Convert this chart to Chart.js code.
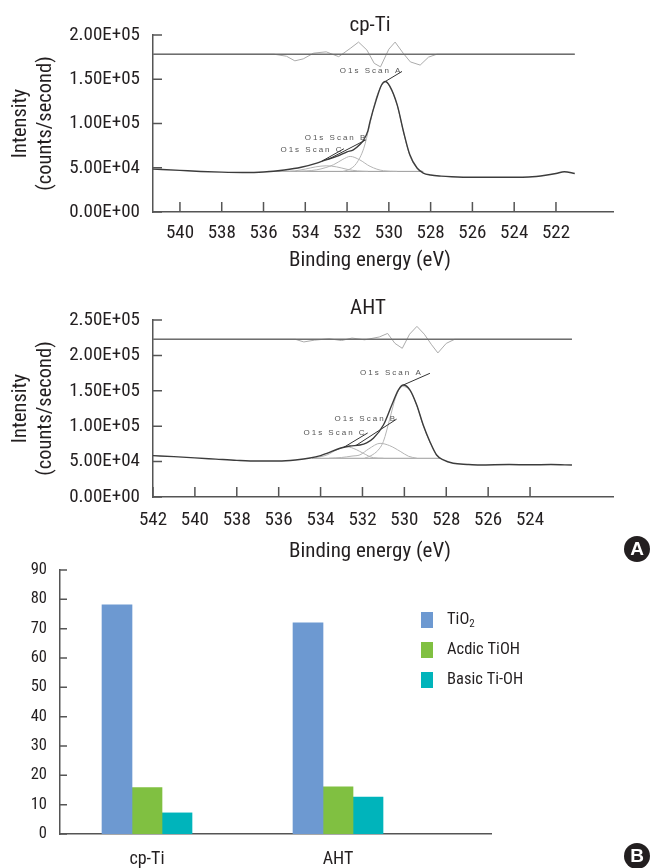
<!DOCTYPE html>
<html>
<head>
<meta charset="utf-8">
<script src="https://cdn.jsdelivr.net/npm/chart.js@4.4.1/dist/chart.umd.min.js"></script>
<style>
  html, body { margin: 0; padding: 0; background: #fff; }
  body { width: 653px; height: 868px; position: relative; overflow: hidden; }
  .box { position: absolute; left: 0; width: 653px; }
  .badge { position: absolute; width: 26px; height: 26px; border-radius: 50%; background: #231f20; color: #fff;
           font: bold 19px 'Liberation Sans', Arial, sans-serif; text-align: center; line-height: 26px; }
</style>
</head>
<body>
<div class="box" style="top:0;height:280px"><canvas id="cpTi"></canvas></div>
<div class="box" style="top:280px;height:290px"><canvas id="aht"></canvas></div>
<div class="box" style="top:555px;height:313px"><canvas id="bars"></canvas></div>
<div class="badge" style="left:624px;top:536px">A</div>
<div class="badge" style="left:624px;top:843px">B</div>
<script>
const FONT = "'Roboto Condensed', Roboto, sans-serif";
const INK = '#231f20';

// ---- cp-Ti O1s spectrum (binding energy eV / counts per second)
const cpTicksX = [540, 538, 536, 534, 532, 530, 528, 526, 524, 522];
const cpEnvE = [541.3, 540, 539, 538, 537, 536, 535, 534.2, 533.45, 533.0, 532.5, 532.0, 531.7, 531.4, 531.2, 531.0, 530.9, 530.6, 530.35, 530.17, 529.95, 529.6, 529.3, 529.0, 528.65, 528.35, 528.0, 527.5, 527.0, 526.0, 525.0, 524.0, 523.3, 522.5, 522.0, 521.6, 521.1];
const cpEnvI = [48500, 47000, 45800, 45000, 44600, 45200, 47500, 50500, 55300, 59000, 62800, 68000, 70300, 76000, 81600, 92000, 102400, 127000, 143500, 147500, 142000, 121000, 91000, 65000, 49700, 44000, 41800, 40500, 39800, 39200, 39200, 39200, 39500, 41500, 43500, 45500, 43500];
const cpAE = [532.2, 531.9, 531.55, 531.2, 530.95, 530.65, 530.4, 530.17, 529.95, 529.6, 529.3, 529.0, 528.65, 528.4];
const cpAI = [45900, 48000, 55000, 72000, 95000, 125000, 141000, 147000, 141500, 120500, 90500, 64000, 49500, 45900];
const cpBE = [534.4, 533.45, 532.65, 532.2, 531.85, 531.4, 530.9, 530.25, 529.6];
const cpBI = [45900, 47700, 53400, 59500, 62800, 59000, 51600, 46600, 45900];
const cpCE = [535.2, 534.5, 534.0, 533.5, 533.0, 532.5, 532.0, 531.5, 531.0];
const cpCI = [45900, 46500, 48500, 51000, 52200, 51000, 48200, 46400, 45900];
const cpBgE = [535.8, 528.35];
const cpBgI = [45900, 45900];
const cpZeroE = [541.3, 521.1];
const cpZeroI = [178300, 178300];
const cpResE = [541.3, 535.5, 534.9, 534.5, 534.1, 533.6, 533.0, 532.4, 531.85, 531.45, 531.05, 530.7, 530.4, 530.0, 529.7, 529.3, 528.97, 528.5, 528.1, 527.7, 521.1];
const cpResI = [178300, 178300, 176000, 170800, 173000, 179500, 181000, 175500, 184800, 192000, 183000, 168000, 164000, 184000, 192000, 179000, 169600, 166000, 175000, 178300, 178300];

// ---- AHT O1s spectrum
const ahtTicksX = [542, 540, 538, 536, 534, 532, 530, 528, 526, 524];
const ahtEnvE = [542, 541, 540, 539, 538, 537, 536, 535.2, 534.5, 534.0, 533.7, 533.07, 532.6, 532.12, 531.8, 531.48, 531.0, 530.6, 530.29, 530.05, 529.73, 529.41, 529.1, 528.78, 528.46, 528.14, 527.67, 527.0, 526.4, 525, 524, 523, 522];
const ahtEnvI = [58400, 57000, 55200, 53500, 51800, 50800, 50800, 52300, 55000, 58500, 61700, 68800, 72000, 73400, 76500, 82900, 101700, 129900, 151100, 158200, 151100, 129900, 101700, 78100, 59300, 52300, 47600, 46000, 45200, 45800, 45500, 45800, 45200];
const ahtAE = [531.9, 531.5, 531.2, 531.0, 530.7, 530.4, 530.1, 529.73, 529.41, 529.1, 528.78, 528.46, 528.3];
const ahtAI = [54700, 60000, 68000, 78500, 110000, 142000, 156000, 150500, 129500, 101000, 77500, 58800, 54700];
const ahtBE = [533.6, 533.0, 532.5, 532.12, 531.7, 531.16, 530.7, 530.2, 529.8, 529.4];
const ahtBI = [54700, 55800, 57800, 59500, 68000, 75800, 72500, 64500, 57500, 54700];
const ahtCE = [534.4, 533.7, 533.2, 532.75, 532.3, 531.96, 531.48, 531.0];
const ahtCI = [54700, 59300, 67000, 71000, 67000, 61700, 55500, 54700];
const ahtBgE = [534.4, 528.3];
const ahtBgI = [54700, 54700];
const ahtZeroE = [542, 522];
const ahtZeroI = [222700, 222700];
const ahtResE = [542, 535.2, 534.8, 534.3, 533.6, 533.0, 532.5, 531.9, 531.2, 530.8, 530.45, 530.1, 529.75, 529.4, 529.05, 528.7, 528.4, 528.0, 527.6, 522];
const ahtResI = [222700, 222700, 219000, 221500, 223500, 221000, 224500, 222000, 226000, 231000, 217000, 210000, 230000, 241000, 230000, 215000, 203500, 217000, 222700, 222700];

const peakNames = ['O1s Scan A', 'O1s Scan B', 'O1s Scan C'];

// ---- bar chart (B)
const categories = ['cp-Ti', 'AHT'];
const seriesNames = ['TiO₂', 'Acdic TiOH', 'Basic Ti-OH'];
const tio2 = [78.1, 72.0];
const acidicTiOH = [15.8, 16.1];
const basicTiOH = [7.2, 12.6];
const seriesColors = ['#6d99d1', '#80c041', '#00b4bb'];

function pts(es, is) {
    return es.map((e, k) => ({x: e, y: is[k]}));
}

function sci(v) {
    if (v === 0) return '0.00E+00';
    const e = Math.floor(Math.log10(v) + 1e-9);
    return (v / Math.pow(10, e)).toFixed(2) + 'E+' + String(e).padStart(2, '0');
}

// labels may hang over the chart area, no extra room needed
function noVertPadding(sc) {
    sc.paddingTop = 0;
    sc.paddingBottom = 0;
}

const innerTicks = {
    id: 'innerTicks',
    afterDraw(chart, args, opts) {
        const ctx = chart.ctx, area = chart.chartArea;
        ctx.save();
        ctx.strokeStyle = opts.color;
        ctx.lineWidth = 1.5;
        ctx.beginPath();
        if (opts.x) chart.scales.x.ticks.forEach(t => {
            const p = chart.scales.x.getPixelForValue(t.value);
            ctx.moveTo(p, area.bottom); ctx.lineTo(p, area.bottom - opts.x);
        });
        if (opts.y) chart.scales.y.ticks.forEach(t => {
            const p = chart.scales.y.getPixelForValue(t.value);
            ctx.moveTo(area.left, p); ctx.lineTo(area.left + opts.y, p);
        });
        ctx.stroke();
        ctx.restore();
    }
};

const overlayText = {
    id: 'overlayText',
    afterDraw(chart, args, opts) {
        const ctx = chart.ctx;
        ctx.save();
        ctx.fillStyle = INK;
        ctx.textAlign = 'center';
        ctx.textBaseline = 'alphabetic';
        (opts.items || []).forEach(it => {
            ctx.font = it.size + 'px ' + FONT;
            ctx.fillText(it.text, it.x, it.y);
        });
        ctx.restore();
    }
};

const peakLabels = {
    id: 'peakLabels',
    afterDatasetsDraw(chart, args, opts) {
        const xs = chart.scales.x, ys = chart.scales.y, ctx = chart.ctx;
        ctx.save();
        ctx.font = "8px 'Liberation Sans', Arial, sans-serif";
        ctx.letterSpacing = '2px';
        ctx.fillStyle = '#555';
        ctx.strokeStyle = '#333';
        ctx.lineWidth = 1;
        ctx.textAlign = 'center';
        ctx.textBaseline = 'middle';
        (opts.items || []).forEach(it => {
            ctx.fillText(it.text, xs.getPixelForValue(it.at[0]), ys.getPixelForValue(it.at[1]));
            ctx.beginPath();
            ctx.moveTo(xs.getPixelForValue(it.from[0]), ys.getPixelForValue(it.from[1]));
            ctx.lineTo(xs.getPixelForValue(it.to[0]), ys.getPixelForValue(it.to[1]));
            ctx.stroke();
        });
        ctx.restore();
    }
};

const sideLegend = {
    id: 'sideLegend',
    afterDraw(chart, args, opts) {
        const ctx = chart.ctx, subs = '₀₁₂₃₄₅₆₇₈₉';
        ctx.save();
        ctx.textBaseline = 'middle';
        ctx.textAlign = 'left';
        chart.data.datasets.forEach((ds, k) => {
            const y = opts.top + k * opts.gap;
            ctx.fillStyle = ds.backgroundColor;
            ctx.fillRect(opts.left, y - 8, 12, 16);
            ctx.fillStyle = INK;
            let x = opts.left + 26;
            for (const ch of ds.label) {
                const si = subs.indexOf(ch);
                if (si >= 0) {
                    ctx.font = '11px ' + FONT;
                    ctx.fillText(String(si), x, y + 4);
                    x += ctx.measureText(String(si)).width;
                } else {
                    ctx.font = '16.5px ' + FONT;
                    ctx.fillText(ch, x, y);
                    x += ctx.measureText(ch).width;
                }
            }
        });
        ctx.restore();
    }
};

function line(data, color, width, smooth) {
    return {
        data: data, borderColor: color, borderWidth: width, pointRadius: 0, fill: false,
        tension: smooth ? 0.4 : 0, cubicInterpolationMode: smooth ? 'monotone' : 'default'
    };
}

function spectrum(id, s) {
    return new Chart(document.getElementById(id), {
        type: 'line',
        data: {
            datasets: [
                line(s.envelope, '#3c3c3c', 1.4, true),
                line(s.compA, '#b4b4b4', 1, true),
                line(s.compB, '#b4b4b4', 1, true),
                line(s.compC, '#b4b4b4', 1, true),
                line(s.background, '#9a9a9a', 1, false),
                line(s.zero, '#6e6e6e', 1.5, false),
                line(s.residual, '#ababab', 1, false)
            ]
        },
        options: {
            responsive: true,
            maintainAspectRatio: false,
            animation: false,
            layout: { padding: { top: s.padTop, right: 40, left: 0, bottom: 0 } },
            plugins: {
                legend: { display: false },
                tooltip: { enabled: false },
                innerTicks: { x: 10, y: 9, color: '#555' },
                overlayText: { items: s.texts },
                peakLabels: { items: s.peaks }
            },
            scales: {
                x: {
                    type: 'linear', reverse: true, min: s.xMin, max: s.xMax,
                    afterBuildTicks: sc => { sc.ticks = s.ticksX.map(v => ({value: v})); },
                    afterFit: sc => { sc.height = s.xAxisH; },
                    ticks: { padding: s.xPad, autoSkip: false, maxRotation: 0, color: INK,
                             font: { family: FONT, size: 19 }, callback: v => String(v) },
                    grid: { display: false, drawTicks: false },
                    border: { color: '#555', width: 1.5 }
                },
                y: {
                    min: 0, max: s.yMax,
                    afterFit: sc => { sc.width = 153; noVertPadding(sc); },
                    ticks: { stepSize: 50000, padding: 13, color: INK,
                             font: { family: FONT, size: 19 }, callback: v => sci(v) },
                    title: { display: true, text: ['Intensity', '(counts/second)'], color: INK,
                             font: { family: FONT, size: 20.5, lineHeight: 1.22 }, padding: { top: 8, bottom: 0 } },
                    grid: { display: false, drawTicks: false },
                    border: { color: '#555', width: 1.5 }
                }
            }
        },
        plugins: [innerTicks, overlayText, peakLabels]
    });
}

spectrum('cpTi', {
    envelope: pts(cpEnvE, cpEnvI), compA: pts(cpAE, cpAI), compB: pts(cpBE, cpBI), compC: pts(cpCE, cpCI),
    background: pts(cpBgE, cpBgI), zero: pts(cpZeroE, cpZeroI), residual: pts(cpResE, cpResI),
    ticksX: cpTicksX, xMin: 519.27, xMax: 541.29, yMax: 200000,
    padTop: 35, xAxisH: 68, xPad: 10,
    texts: [
        { text: 'cp-Ti', x: 370, y: 31, size: 21 },
        { text: 'Binding energy (eV)', x: 370, y: 266, size: 21 }
    ],
    peaks: [
        { text: peakNames[0], at: [530.85, 159500], from: [529.37, 158800], to: [530.17, 147500] },
        { text: peakNames[1], at: [532.53, 83500], from: [531.1, 81500], to: [532.9, 59500] },
        { text: peakNames[2], at: [533.68, 70300], from: [532.15, 71500], to: [533.2, 57500] }
    ]
});

spectrum('aht', {
    envelope: pts(ahtEnvE, ahtEnvI), compA: pts(ahtAE, ahtAI), compB: pts(ahtBE, ahtBI), compC: pts(ahtCE, ahtCI),
    background: pts(ahtBgE, ahtBgI), zero: pts(ahtZeroE, ahtZeroI), residual: pts(ahtResE, ahtResI),
    ticksX: ahtTicksX, xMin: 520.04, xMax: 542, yMax: 250000,
    padTop: 40, xAxisH: 73, xPad: 11.5,
    texts: [
        { text: 'AHT', x: 368, y: 33.5, size: 21 },
        { text: 'Binding energy (eV)', x: 370, y: 276.5, size: 21 }
    ],
    peaks: [
        { text: peakNames[0], at: [530.62, 175000], from: [528.78, 174700], to: [530.05, 158200] },
        { text: peakNames[1], at: [531.84, 110200], from: [530.37, 110000], to: [532.3, 73000] },
        { text: peakNames[2], at: [533.31, 90000], from: [531.75, 90500], to: [532.9, 70000] }
    ]
});

new Chart(document.getElementById('bars'), {
    type: 'bar',
    data: {
        datasets: [tio2, acidicTiOH, basicTiOH].map((vals, k) => ({
            label: seriesNames[k],
            data: vals.map((v, i) => ({x: i + 1, y: v})),
            backgroundColor: seriesColors[k],
            barThickness: 30
        }))
    },
    options: {
        responsive: true,
        maintainAspectRatio: false,
        animation: false,
        layout: { padding: { top: 15, right: 162, left: 0, bottom: 0 } },
        plugins: {
            legend: { display: false },
            tooltip: { enabled: false },
            innerTicks: { x: 0, y: 7, color: '#555' },
            sideLegend: { left: 421, top: 65, gap: 30 }
        },
        scales: {
            x: {
                type: 'linear', offset: false, min: 0.5445, max: 2.801,
                afterBuildTicks: sc => { sc.ticks = categories.map((c, i) => ({value: i + 1})); },
                afterFit: sc => { sc.height = 34; },
                ticks: { padding: 15, color: INK, maxRotation: 0, autoSkip: false,
                         font: { family: FONT, size: 18 }, callback: v => categories[v - 1] },
                grid: { display: false, drawTicks: false },
                border: { color: '#555', width: 1.5 }
            },
            y: {
                min: 0, max: 90,
                afterFit: sc => { sc.width = 60; noVertPadding(sc); },
                ticks: { stepSize: 10, padding: 13, color: INK, font: { family: FONT, size: 16.5 } },
                grid: { display: false, drawTicks: false },
                border: { color: '#555', width: 1.5 }
            }
        }
    },
    plugins: [innerTicks, sideLegend]
});
</script>
</body>
</html>
